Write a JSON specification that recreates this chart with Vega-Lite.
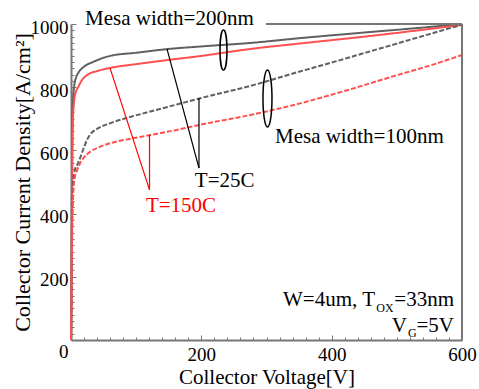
{
  "$schema": "https://vega.github.io/schema/vega-lite/v6.json",
  "width": 391,
  "height": 316,
  "autosize": "none",
  "padding": {"left": 71, "top": 24, "right": 17, "bottom": 49},
  "background": "white",
  "config": {"view": {"stroke": null}, "font": "Liberation Serif"},
  "resolve": {"axis": {"x": "independent", "y": "independent"}},
  "datasets": {
    "curves": [
      {"mesa":"200nm","temp":"25C","V":0,"J":0},{"mesa":"200nm","temp":"25C","V":0.5,"J":150},{"mesa":"200nm","temp":"25C","V":1,"J":330},{"mesa":"200nm","temp":"25C","V":1.5,"J":500},{"mesa":"200nm","temp":"25C","V":2,"J":640},{"mesa":"200nm","temp":"25C","V":3,"J":755},{"mesa":"200nm","temp":"25C","V":5,"J":805},{"mesa":"200nm","temp":"25C","V":8,"J":832},{"mesa":"200nm","temp":"25C","V":12,"J":848},{"mesa":"200nm","temp":"25C","V":20,"J":865},{"mesa":"200nm","temp":"25C","V":34,"J":880},{"mesa":"200nm","temp":"25C","V":60,"J":899},{"mesa":"200nm","temp":"25C","V":100,"J":909},{"mesa":"200nm","temp":"25C","V":150,"J":921},{"mesa":"200nm","temp":"25C","V":200,"J":929},{"mesa":"200nm","temp":"25C","V":275,"J":940},{"mesa":"200nm","temp":"25C","V":350,"J":955},{"mesa":"200nm","temp":"25C","V":450,"J":973},{"mesa":"200nm","temp":"25C","V":525,"J":986},{"mesa":"200nm","temp":"25C","V":600,"J":1000},
      {"mesa":"200nm","temp":"150C","V":0,"J":0},{"mesa":"200nm","temp":"150C","V":0.5,"J":120},{"mesa":"200nm","temp":"150C","V":1,"J":280},{"mesa":"200nm","temp":"150C","V":1.5,"J":430},{"mesa":"200nm","temp":"150C","V":2,"J":560},{"mesa":"200nm","temp":"150C","V":3,"J":700},{"mesa":"200nm","temp":"150C","V":5,"J":760},{"mesa":"200nm","temp":"150C","V":8,"J":788},{"mesa":"200nm","temp":"150C","V":11,"J":800},{"mesa":"200nm","temp":"150C","V":16,"J":820},{"mesa":"200nm","temp":"150C","V":25,"J":839},{"mesa":"200nm","temp":"150C","V":40,"J":851},{"mesa":"200nm","temp":"150C","V":60,"J":861},{"mesa":"200nm","temp":"150C","V":100,"J":873},{"mesa":"200nm","temp":"150C","V":148,"J":886},{"mesa":"200nm","temp":"150C","V":200,"J":899},{"mesa":"200nm","temp":"150C","V":275,"J":921},{"mesa":"200nm","temp":"150C","V":350,"J":938},{"mesa":"200nm","temp":"150C","V":450,"J":960},{"mesa":"200nm","temp":"150C","V":525,"J":978},{"mesa":"200nm","temp":"150C","V":600,"J":997},
      {"mesa":"100nm","temp":"25C","V":0,"J":0},{"mesa":"100nm","temp":"25C","V":0.5,"J":100},{"mesa":"100nm","temp":"25C","V":1,"J":220},{"mesa":"100nm","temp":"25C","V":1.5,"J":330},{"mesa":"100nm","temp":"25C","V":2,"J":420},{"mesa":"100nm","temp":"25C","V":3,"J":500},{"mesa":"100nm","temp":"25C","V":6,"J":538},{"mesa":"100nm","temp":"25C","V":10,"J":556},{"mesa":"100nm","temp":"25C","V":14,"J":576},{"mesa":"100nm","temp":"25C","V":20,"J":610},{"mesa":"100nm","temp":"25C","V":25,"J":635},{"mesa":"100nm","temp":"25C","V":29,"J":649},{"mesa":"100nm","temp":"25C","V":40,"J":668},{"mesa":"100nm","temp":"25C","V":60,"J":686},{"mesa":"100nm","temp":"25C","V":86,"J":703},{"mesa":"100nm","temp":"25C","V":120,"J":722},{"mesa":"100nm","temp":"25C","V":160,"J":744},{"mesa":"100nm","temp":"25C","V":200,"J":766},{"mesa":"100nm","temp":"25C","V":275,"J":804},{"mesa":"100nm","temp":"25C","V":350,"J":849},{"mesa":"100nm","temp":"25C","V":400,"J":878},{"mesa":"100nm","temp":"25C","V":450,"J":908},{"mesa":"100nm","temp":"25C","V":500,"J":938},{"mesa":"100nm","temp":"25C","V":550,"J":968},{"mesa":"100nm","temp":"25C","V":600,"J":998},
      {"mesa":"100nm","temp":"150C","V":0,"J":0},{"mesa":"100nm","temp":"150C","V":0.5,"J":80},{"mesa":"100nm","temp":"150C","V":1,"J":180},{"mesa":"100nm","temp":"150C","V":1.5,"J":280},{"mesa":"100nm","temp":"150C","V":2,"J":360},{"mesa":"100nm","temp":"150C","V":3,"J":450},{"mesa":"100nm","temp":"150C","V":6,"J":516},{"mesa":"100nm","temp":"150C","V":9,"J":535},{"mesa":"100nm","temp":"150C","V":14,"J":560},{"mesa":"100nm","temp":"150C","V":20,"J":578},{"mesa":"100nm","temp":"150C","V":29,"J":595},{"mesa":"100nm","temp":"150C","V":45,"J":612},{"mesa":"100nm","temp":"150C","V":70,"J":628},{"mesa":"100nm","temp":"150C","V":100,"J":640},{"mesa":"100nm","temp":"150C","V":122,"J":649},{"mesa":"100nm","temp":"150C","V":160,"J":664},{"mesa":"100nm","temp":"150C","V":200,"J":682},{"mesa":"100nm","temp":"150C","V":275,"J":712},{"mesa":"100nm","temp":"150C","V":350,"J":748},{"mesa":"100nm","temp":"150C","V":428,"J":793},{"mesa":"100nm","temp":"150C","V":500,"J":838},{"mesa":"100nm","temp":"150C","V":550,"J":868},{"mesa":"100nm","temp":"150C","V":600,"J":902}
    ],
    "leaders": [
      {"grp":"25C","V1":147.3,"J1":921,"V2":196.4,"J2":544},
      {"grp":"25C","V1":196.4,"J1":766,"V2":196.4,"J2":544},
      {"grp":"150C","V1":59.8,"J1":861,"V2":120.5,"J2":475},
      {"grp":"150C","V1":120.5,"J1":649,"V2":120.5,"J2":475}
    ],
    "frame": [
      {"V1":600,"J1":0,"V2":600,"J2":1000},
      {"V1":299,"J1":1000,"V2":600,"J2":1000}
    ],
    "rings": [
      {"ring":"200nm","V":234,"J":918},
      {"ring":"100nm","V":301.5,"J":764}
    ],
    "notes": [
      {"kind":"left","t":"Mesa width=200nm","V":21.5,"J":997},
      {"kind":"left","t":"T=25C","V":190,"J":484},
      {"kind":"left","t":"Mesa width=100nm","V":313,"J":624},
      {"kind":"right","t":"W=4um, T","V":466.5,"J":108},
      {"kind":"right","t":"=33nm","V":587.7,"J":108},
      {"kind":"right","t":"V","V":515.6,"J":25},
      {"kind":"right","t":"=5V","V":587.7,"J":25},
      {"kind":"sub","t":"OX","V":468.5,"J":89},
      {"kind":"sub","t":"G","V":517.3,"J":9.5},
      {"kind":"red","t":"T=150C","V":115,"J":406}
    ]
  },
  "layer": [
    {
      "data": {"name": "curves"},
      "mark": {"type": "line", "strokeWidth": 2, "interpolate": "monotone"},
      "encoding": {
        "x": {"field": "V", "type": "quantitative", "scale": {"domain": [0, 600], "nice": false},
          "axis": {"orient": "bottom", "title": "Collector Voltage[V]", "values": [0, 200, 400, 600], "format": "d",
            "labelExpr": "datum.value > 0 ? datum.label : ''",
            "grid": false, "domainColor": "#777777", "domainWidth": 2, "tickColor": "#777777", "tickSize": -5, "tickWidth": 1,
            "labelFont": "Liberation Serif", "labelFontSize": 19, "labelColor": "black", "labelPadding": 10, "labelFlush": false, "labelOverlap": false,
            "titleFont": "Liberation Serif", "titleFontSize": 21, "titleFontWeight": "normal", "titleColor": "black", "titlePadding": 2}},
        "y": {"field": "J", "type": "quantitative", "scale": {"domain": [0, 1000], "nice": false},
          "axis": {"orient": "left", "title": "Collector Current Density[A/cm²]", "values": [0, 200, 400, 600, 800, 1000], "format": "d",
            "labelOffset": {"condition": {"test": "datum.value === 0", "value": 11}, "value": 3},
            "grid": false, "domainColor": "#777777", "domainWidth": 2, "tickColor": "#777777", "tickSize": -5, "tickWidth": 1,
            "labelFont": "Liberation Serif", "labelFontSize": 19, "labelColor": "black", "labelPadding": 8, "labelFlush": false, "labelOverlap": false,
            "titleFont": "Liberation Serif", "titleFontSize": 22, "titleFontWeight": "normal", "titleColor": "black", "titlePadding": -4}},
        "color": {"field": "temp", "type": "nominal", "scale": {"domain": ["25C", "150C"], "range": ["#606060", "#ff5050"]}, "legend": null},
        "strokeDash": {"field": "mesa", "type": "nominal", "scale": {"domain": ["200nm", "100nm"], "range": [[1, 0], [5, 2]]}, "legend": null}
      }
    },
    {
      "data": {"name": "frame"},
      "mark": {"type": "rule", "color": "#777777", "strokeWidth": 2},
      "encoding": {
        "x": {"field": "V1", "type": "quantitative",
          "axis": {"orient": "bottom", "title": null, "values": [20,40,60,80,100,120,140,160,180,220,240,260,280,300,320,340,360,380,420,440,460,480,500,520,540,560,580],
            "labels": false, "domain": false, "grid": false, "tickColor": "#777777", "tickSize": -3, "tickWidth": 1}},
        "y": {"field": "J1", "type": "quantitative",
          "axis": {"orient": "left", "title": null, "values": [20,40,60,80,100,120,140,160,180,220,240,260,280,300,320,340,360,380,420,440,460,480,500,520,540,560,580,620,640,660,680,700,720,740,760,780,820,840,860,880,900,920,940,960,980],
            "labels": false, "domain": false, "grid": false, "tickColor": "#777777", "tickSize": -3, "tickWidth": 1}},
        "x2": {"field": "V2"},
        "y2": {"field": "J2"}
      }
    },
    {
      "data": {"name": "leaders"},
      "transform": [{"filter": "datum.grp === '25C'"}],
      "mark": {"type": "rule", "strokeWidth": 1.2, "color": "black"},
      "encoding": {
        "x": {"field": "V1", "type": "quantitative", "axis": null},
        "y": {"field": "J1", "type": "quantitative", "axis": null},
        "x2": {"field": "V2"},
        "y2": {"field": "J2"}
      }
    },
    {
      "data": {"name": "leaders"},
      "transform": [{"filter": "datum.grp === '150C'"}],
      "mark": {"type": "rule", "strokeWidth": 1.2, "color": "#ff0000"},
      "encoding": {
        "x": {"field": "V1", "type": "quantitative", "axis": null},
        "y": {"field": "J1", "type": "quantitative", "axis": null},
        "x2": {"field": "V2"},
        "y2": {"field": "J2"}
      }
    },
    {
      "data": {"name": "rings"},
      "transform": [{"filter": "datum.ring === '200nm'"}],
      "mark": {"type": "point", "shape": "M0,-1A0.175,1,0,1,1,0,1A0.175,1,0,1,1,0,-1Z", "size": 1600, "filled": false, "color": "black", "strokeWidth": 1.5, "opacity": 1},
      "encoding": {
        "x": {"field": "V", "type": "quantitative", "axis": null},
        "y": {"field": "J", "type": "quantitative", "axis": null}
      }
    },
    {
      "data": {"name": "rings"},
      "transform": [{"filter": "datum.ring === '100nm'"}],
      "mark": {"type": "point", "shape": "M0,-1A0.158,1,0,1,1,0,1A0.158,1,0,1,1,0,-1Z", "size": 3249, "filled": false, "color": "black", "strokeWidth": 1.5, "opacity": 1},
      "encoding": {
        "x": {"field": "V", "type": "quantitative", "axis": null},
        "y": {"field": "J", "type": "quantitative", "axis": null}
      }
    },
    {
      "data": {"name": "notes"},
      "transform": [{"filter": "datum.kind === 'left'"}],
      "mark": {"type": "text", "font": "Liberation Serif", "fontSize": 21, "align": "left", "baseline": "alphabetic", "color": "black"},
      "encoding": {
        "x": {"field": "V", "type": "quantitative", "axis": null},
        "y": {"field": "J", "type": "quantitative", "axis": null},
        "text": {"field": "t"}
      }
    },
    {
      "data": {"name": "notes"},
      "transform": [{"filter": "datum.kind === 'right'"}],
      "mark": {"type": "text", "font": "Liberation Serif", "fontSize": 21, "align": "right", "baseline": "alphabetic", "color": "black"},
      "encoding": {
        "x": {"field": "V", "type": "quantitative", "axis": null},
        "y": {"field": "J", "type": "quantitative", "axis": null},
        "text": {"field": "t"}
      }
    },
    {
      "data": {"name": "notes"},
      "transform": [{"filter": "datum.kind === 'sub'"}],
      "mark": {"type": "text", "font": "Liberation Serif", "fontSize": 12, "align": "left", "baseline": "alphabetic", "color": "black"},
      "encoding": {
        "x": {"field": "V", "type": "quantitative", "axis": null},
        "y": {"field": "J", "type": "quantitative", "axis": null},
        "text": {"field": "t"}
      }
    },
    {
      "data": {"name": "notes"},
      "transform": [{"filter": "datum.kind === 'red'"}],
      "mark": {"type": "text", "font": "Liberation Serif", "fontSize": 21, "align": "left", "baseline": "alphabetic", "color": "#ff0000"},
      "encoding": {
        "x": {"field": "V", "type": "quantitative", "axis": null},
        "y": {"field": "J", "type": "quantitative", "axis": null},
        "text": {"field": "t"}
      }
    }
  ]
}
